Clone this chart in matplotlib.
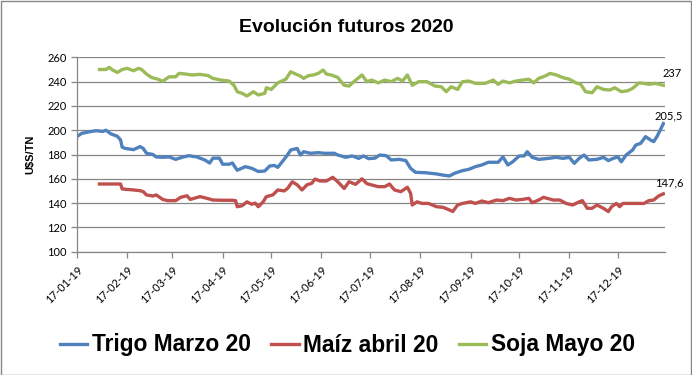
import numpy as np
import pandas as pd
import matplotlib
matplotlib.use("Agg")
import matplotlib.pyplot as plt
import matplotlib.dates as mdates
from matplotlib.patches import Rectangle

plt.rcParams['font.family'] = ['Lato', 'DejaVu Sans']
negrita = ['Liberation Sans', 'DejaVu Sans']

# valores (u$s/TN)
trigo_fechas = ['2019-01-17', '2019-01-20', '2019-01-25', '2019-01-29', '2019-02-02', '2019-02-04',
                '2019-02-07', '2019-02-11', '2019-02-13', '2019-02-14', '2019-02-16', '2019-02-21',
                '2019-02-25', '2019-02-27', '2019-03-01', '2019-03-05', '2019-03-07', '2019-03-11',
                '2019-03-15', '2019-03-19', '2019-03-23', '2019-03-27', '2019-04-01', '2019-04-03',
                '2019-04-06', '2019-04-09', '2019-04-11', '2019-04-15', '2019-04-17', '2019-04-21',
                '2019-04-23', '2019-04-26', '2019-05-01', '2019-05-05', '2019-05-09', '2019-05-13',
                '2019-05-16', '2019-05-19', '2019-05-21', '2019-05-23', '2019-05-27', '2019-05-29',
                '2019-06-02', '2019-06-04', '2019-06-06', '2019-06-10', '2019-06-15', '2019-06-19',
                '2019-06-25', '2019-06-27', '2019-07-02', '2019-07-06', '2019-07-10', '2019-07-13',
                '2019-07-16', '2019-07-20', '2019-07-23', '2019-07-27', '2019-07-30', '2019-08-04',
                '2019-08-08', '2019-08-11', '2019-08-14', '2019-08-20', '2019-08-27', '2019-08-31',
                '2019-09-04', '2019-09-07', '2019-09-12', '2019-09-16', '2019-09-20', '2019-09-24',
                '2019-09-28', '2019-10-04', '2019-10-07', '2019-10-10', '2019-10-13', '2019-10-17',
                '2019-10-20', '2019-10-22', '2019-10-25', '2019-10-29', '2019-11-04', '2019-11-09',
                '2019-11-13', '2019-11-17', '2019-11-20', '2019-11-23', '2019-11-26', '2019-11-29',
                '2019-12-04', '2019-12-08', '2019-12-11', '2019-12-14', '2019-12-17', '2019-12-19',
                '2019-12-22', '2019-12-26', '2019-12-28', '2019-12-31', '2020-01-03', '2020-01-06',
                '2020-01-08', '2020-01-10', '2020-01-12', '2020-01-14']
trigo = [194.7, 197.4, 198.8, 199.6, 199.0, 200.0, 197.0, 195.0, 192.0, 186.0, 185.0, 184.0,
         186.5, 185.0, 181.0, 180.0, 178.0, 177.7, 178.0, 176.0, 177.7, 179.0, 178.0, 177.0,
         175.5, 173.0, 177.0, 177.0, 172.0, 172.0, 173.0, 167.0, 170.0, 168.6, 166.0, 166.4,
         170.5, 171.0, 169.4, 172.7, 179.6, 183.7, 185.0, 179.6, 182.3, 181.0, 181.5, 181.0,
         181.0, 179.6, 177.7, 178.8, 176.8, 178.8, 176.6, 177.0, 179.6, 179.0, 175.5, 176.0,
         175.0, 168.6, 165.3, 165.0, 164.0, 163.0, 162.3, 164.5, 166.7, 167.8, 170.0, 171.4,
         173.6, 173.6, 178.0, 171.4, 174.0, 178.8, 178.8, 182.3, 177.7, 176.0, 176.8, 177.7,
         176.8, 177.7, 172.7, 176.8, 179.6, 175.5, 176.0, 177.7, 175.0, 176.8, 178.0, 174.0,
         179.6, 183.7, 187.8, 189.2, 194.7, 192.0, 190.6, 194.7, 200.0, 205.5]

maiz_fechas = ['2019-01-31', '2019-02-13', '2019-02-14', '2019-02-21', '2019-02-25', '2019-02-27',
               '2019-03-01', '2019-03-05', '2019-03-07', '2019-03-11', '2019-03-14', '2019-03-19',
               '2019-03-22', '2019-03-26', '2019-03-28', '2019-04-03', '2019-04-07', '2019-04-11',
               '2019-04-17', '2019-04-23', '2019-04-25', '2019-04-26', '2019-04-29', '2019-05-02',
               '2019-05-05', '2019-05-07', '2019-05-09', '2019-05-12', '2019-05-14', '2019-05-18',
               '2019-05-21', '2019-05-25', '2019-05-27', '2019-05-30', '2019-06-02', '2019-06-05',
               '2019-06-08', '2019-06-11', '2019-06-13', '2019-06-16', '2019-06-20', '2019-06-24',
               '2019-06-27', '2019-07-01', '2019-07-04', '2019-07-08', '2019-07-12', '2019-07-15',
               '2019-07-18', '2019-07-22', '2019-07-26', '2019-07-29', '2019-08-01', '2019-08-05',
               '2019-08-09', '2019-08-11', '2019-08-12', '2019-08-15', '2019-08-18', '2019-08-22',
               '2019-08-27', '2019-08-31', '2019-09-04', '2019-09-06', '2019-09-09', '2019-09-12',
               '2019-09-17', '2019-09-20', '2019-09-24', '2019-09-28', '2019-10-03', '2019-10-07',
               '2019-10-11', '2019-10-15', '2019-10-19', '2019-10-23', '2019-10-25', '2019-10-29',
               '2019-11-01', '2019-11-07', '2019-11-11', '2019-11-15', '2019-11-19', '2019-11-23',
               '2019-11-25', '2019-11-28', '2019-12-01', '2019-12-04', '2019-12-08', '2019-12-11',
               '2019-12-13', '2019-12-16', '2019-12-18', '2019-12-20', '2019-12-26', '2020-01-02',
               '2020-01-05', '2020-01-08', '2020-01-11', '2020-01-14']
maiz = [155.7, 155.7, 151.6, 150.8, 150.2, 149.4, 146.7, 145.8, 146.7, 143.0, 142.0, 142.0,
        144.7, 146.0, 143.0, 145.3, 144.0, 142.5, 142.3, 142.3, 142.0, 137.0, 137.8, 141.0,
        139.0, 140.0, 137.0, 141.0, 145.3, 146.7, 150.8, 150.0, 152.0, 157.5, 155.0, 150.8,
        155.0, 156.3, 159.8, 158.2, 158.2, 161.2, 157.6, 152.0, 157.6, 155.4, 160.0, 156.0,
        154.9, 153.5, 153.5, 155.7, 150.8, 149.4, 153.0, 148.0, 138.4, 141.0, 139.7, 139.7,
        137.0, 136.5, 134.3, 133.0, 138.4, 139.7, 141.0, 139.7, 141.7, 140.3, 142.5, 142.0,
        143.9, 142.5, 143.0, 143.9, 140.3, 142.5, 144.7, 142.5, 142.5, 139.7, 138.4, 141.0,
        142.0, 135.7, 135.7, 138.4, 135.7, 133.0, 137.0, 139.7, 137.0, 139.7, 139.7, 139.7,
        142.0, 142.5, 145.8, 147.6]

soja_fechas = ['2019-01-31', '2019-02-04', '2019-02-06', '2019-02-08', '2019-02-11', '2019-02-14',
               '2019-02-17', '2019-02-21', '2019-02-24', '2019-02-26', '2019-03-01', '2019-03-04',
               '2019-03-08', '2019-03-11', '2019-03-15', '2019-03-19', '2019-03-21', '2019-03-25',
               '2019-03-29', '2019-04-03', '2019-04-08', '2019-04-11', '2019-04-16', '2019-04-21',
               '2019-04-24', '2019-04-26', '2019-04-29', '2019-05-02', '2019-05-06', '2019-05-09',
               '2019-05-13', '2019-05-14', '2019-05-17', '2019-05-21', '2019-05-26', '2019-05-29',
               '2019-06-01', '2019-06-04', '2019-06-06', '2019-06-09', '2019-06-12', '2019-06-15',
               '2019-06-18', '2019-06-20', '2019-06-23', '2019-06-27', '2019-07-01', '2019-07-04',
               '2019-07-07', '2019-07-12', '2019-07-15', '2019-07-18', '2019-07-22', '2019-07-26',
               '2019-07-30', '2019-08-03', '2019-08-06', '2019-08-09', '2019-08-12', '2019-08-16',
               '2019-08-21', '2019-08-26', '2019-08-30', '2019-09-02', '2019-09-05', '2019-09-09',
               '2019-09-12', '2019-09-16', '2019-09-20', '2019-09-26', '2019-10-01', '2019-10-04',
               '2019-10-07', '2019-10-11', '2019-10-15', '2019-10-19', '2019-10-23', '2019-10-26',
               '2019-10-29', '2019-11-02', '2019-11-05', '2019-11-09', '2019-11-13', '2019-11-17',
               '2019-11-21', '2019-11-24', '2019-11-27', '2019-12-01', '2019-12-04', '2019-12-08',
               '2019-12-12', '2019-12-15', '2019-12-19', '2019-12-23', '2019-12-26', '2019-12-30',
               '2020-01-02', '2020-01-05', '2020-01-09', '2020-01-14']
soja = [250.0, 250.0, 251.8, 249.6, 247.6, 250.0, 251.0, 249.0, 251.0, 250.0, 246.3, 243.5,
        242.0, 240.3, 244.0, 244.0, 246.8, 246.3, 245.5, 246.0, 245.0, 242.7, 241.3, 240.5,
        237.0, 231.7, 230.4, 228.2, 231.7, 229.0, 230.4, 235.0, 233.6, 239.0, 242.0, 248.2,
        246.3, 244.6, 242.7, 245.0, 245.5, 246.8, 249.6, 246.3, 245.5, 243.5, 237.0, 236.4,
        240.0, 245.5, 240.0, 241.3, 239.0, 241.3, 240.0, 242.7, 240.5, 245.5, 237.0, 240.0,
        240.0, 236.4, 235.8, 231.7, 235.8, 233.6, 240.0, 240.5, 238.6, 238.6, 241.3, 237.8,
        240.5, 239.0, 240.5, 241.3, 242.0, 239.0, 242.7, 244.6, 246.8, 245.5, 243.3, 242.0,
        239.0, 237.8, 231.7, 230.9, 235.8, 233.6, 233.1, 235.0, 231.7, 232.5, 234.5, 239.0,
        238.6, 237.8, 238.6, 237.0]

series = ['Trigo Marzo 20', 'Maíz abril 20', 'Soja Mayo 20']
colores = ['#4F81BD', '#C0504D', '#9BBB59']
etiquetas_fin = ['205,5', '147,6', '237']
desplaz_fin = [(4, 1.5), (4, 4), (6.5, 4.5)]  # puntos

fig = plt.figure(figsize=(6.92, 3.75), dpi=100)
ax = fig.add_axes([0.111, 0.329, 0.850, 0.518])

datos = [(trigo_fechas, trigo), (maiz_fechas, maiz), (soja_fechas, soja)]
for (f, v), nombre, c, et, d in zip(datos, series, colores, etiquetas_fin, desplaz_fin):
    fechas = pd.to_datetime(f)
    ax.plot(fechas, v, color=c, lw=2.4, label=nombre, solid_joinstyle='round')
    ax.annotate(et, (fechas[-1], v[-1]), xytext=d, textcoords='offset points',
                ha='center', va='bottom', fontsize=8)

gris = '#868686'
ax.set_ylim(100, 260)
ax.set_yticks(np.arange(100, 261, 20))
ax.yaxis.grid(True, color=gris, lw=0.9)
ax.set_axisbelow(True)
ax.set_xlim(pd.Timestamp('2019-01-17'), pd.Timestamp('2020-01-15'))
ax.set_xticks(pd.date_range('2019-01-17', periods=12, freq=pd.DateOffset(months=1)))
ax.xaxis.set_major_formatter(mdates.DateFormatter('%d-%m-%y'))

for s in ['top', 'right']:
    ax.spines[s].set_visible(False)
for s in ['left', 'bottom']:
    ax.spines[s].set_color(gris)
    ax.spines[s].set_linewidth(0.9)
ax.tick_params(axis='both', color=gris, length=4, width=0.9, labelsize=8)
ax.tick_params(axis='x', pad=5)
plt.setp(ax.get_xticklabels(), rotation=45, ha='right', va='top', rotation_mode='anchor')

ax.set_ylabel('U$S/TN', fontsize=8, fontweight='bold', family=negrita, labelpad=8)
fig.text(0.5, 0.927, 'Evolución futuros 2020', ha='center', va='center',
         fontsize=14, fontweight='bold', family=negrita)

fig.legend(loc='center', bbox_to_anchor=(0.502, 0.08), ncol=3, frameon=False,
           prop={'size': 16.4, 'weight': 'bold', 'family': negrita}, handlelength=1.2,
           handletextpad=0.2, columnspacing=0.9)

fig.patches.append(Rectangle((0.001, 0.001), 0.997, 0.996, transform=fig.transFigure,
                             fill=False, edgecolor=gris, lw=1))

fig.savefig('out.png', dpi=100)
